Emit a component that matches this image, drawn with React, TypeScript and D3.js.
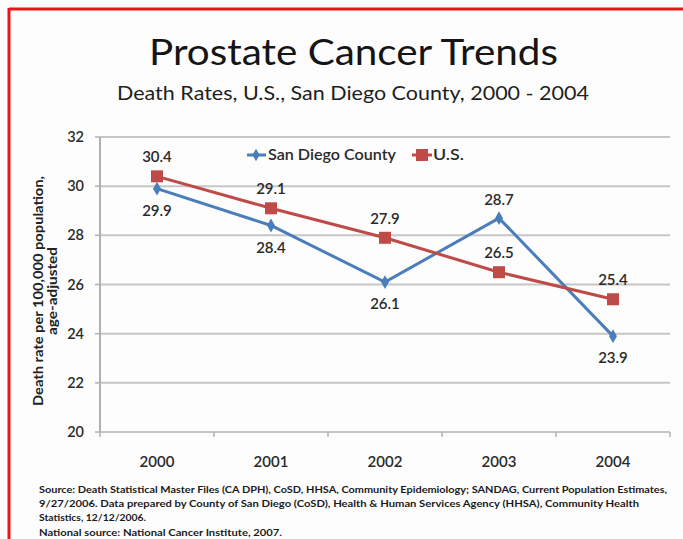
import React from "react";
import * as d3 from "d3";

const years = ["2000", "2001", "2002", "2003", "2004"];
const sanDiego = [29.9, 28.4, 26.1, 28.7, 23.9];
const us = [30.4, 29.1, 27.9, 26.5, 25.4];
const sdLabelAbove = [false, false, false, true, false];
const usLabelAbove = [true, true, true, true, true];
const yTicks = [20, 22, 24, 26, 28, 30, 32];
const footer = [
  "Source: Death Statistical Master Files (CA DPH), CoSD, HHSA, Community Epidemiology; SANDAG, Current Population Estimates,",
  "9/27/2006.  Data prepared by County of San Diego (CoSD), Health & Human Services Agency (HHSA), Community Health",
  "Statistics, 12/12/2006.",
  "National source: National Cancer Institute, 2007.",
];
const footerWidths = [628, 600, 107, 243];

const W = 683, H = 539;
const L = 100, R = 670, T = 137, B = 432;
const FONT = "Lato, 'Open Sans', sans-serif";
const BLUE = "#4a7ebb";
const RED = "#be4b48";
const TXT = "#2a2a2a";

export default function App() {
  const x = d3.scalePoint<string>().domain(years).range([L, R]).padding(0.5);
  const band = (R - L) / years.length;
  const y = d3.scaleLinear().domain([20, 32]).range([B, T]);
  const line = d3.line<number>().x((_, i) => x(years[i])!).y((d) => y(d));

  return (
    <svg width={W} height={H} style={{ position: "absolute", left: 0, top: 0, background: "#fff" }} fontFamily={FONT}>
      <rect x={0} y={0} width={W} height={H} fill="#fdfdfd" />
      <line x1={9} y1={9} x2={W} y2={9} stroke="#e8161b" strokeWidth={3} />
      <line x1={9} y1={8} x2={9} y2={H} stroke="#e8161b" strokeWidth={3} />
      <text x={149} y={65} fontSize={37} fill="#151515" textLength={409} lengthAdjust="spacingAndGlyphs">Prostate Cancer Trends</text>
      <text x={117} y={100} fontSize={20} fill="#1e1e1e" textLength={472} lengthAdjust="spacingAndGlyphs">Death Rates, U.S., San Diego County, 2000 - 2004</text>

      {yTicks.map((t) => (
        <g key={t}>
          <line x1={L} x2={R} y1={y(t)} y2={y(t)} stroke="#c6c6c6" strokeWidth={2} />
          <line x1={L - 5} x2={L} y1={y(t)} y2={y(t)} stroke="#b0b0b0" strokeWidth={1.5} />
          <text x={L - 16} y={y(t) + 5} textAnchor="end" fontSize={14.5} fontWeight={600} fill={TXT}>{t}</text>
        </g>
      ))}
      <line x1={L} x2={L} y1={T} y2={B} stroke="#b0b0b0" strokeWidth={2} />
      {d3.range(years.length + 1).map((i) => (
        <line key={i} x1={L + i * band} x2={L + i * band} y1={B} y2={B + 5} stroke="#b0b0b0" strokeWidth={1.5} />
      ))}
      {years.map((yr) => (
        <text key={yr} x={x(yr)!} y={B + 35} textAnchor="middle" fontSize={15} fontWeight={600} fill={TXT}>{yr}</text>
      ))}

      <g transform={`translate(0,291) rotate(-90)`}>
        <text x={0} y={43} textAnchor="middle" fontSize={12.5} fontWeight={700} fill="#222" textLength={230} lengthAdjust="spacingAndGlyphs">Death rate per 100,000 population,</text>
        <text x={0} y={57} textAnchor="middle" fontSize={12.5} fontWeight={700} fill="#222" textLength={88} lengthAdjust="spacingAndGlyphs">age-adjusted</text>
      </g>

      <path d={line(sanDiego)!} fill="none" stroke={BLUE} strokeWidth={3} />
      <path d={line(us)!} fill="none" stroke={RED} strokeWidth={3} />
      {sanDiego.map((v, i) => (
        <path key={"sd" + i} d={d3.symbol(d3.symbolDiamond, 55)()!} transform={`translate(${x(years[i])},${y(v)})`} fill={BLUE} />
      ))}
      {us.map((v, i) => (
        <rect key={"us" + i} x={x(years[i])! - 6} y={y(v) - 6} width={12} height={12} fill={RED} />
      ))}
      {sanDiego.map((v, i) => (
        <text key={"sdl" + i} x={x(years[i])!} y={sdLabelAbove[i] ? y(v) - 13 : y(v) + 27} textAnchor="middle" fontSize={15} fontWeight={600} fill={TXT}>{v.toFixed(1)}</text>
      ))}
      {us.map((v, i) => (
        <text key={"usl" + i} x={x(years[i])!} y={usLabelAbove[i] ? y(v) - 14 : y(v) + 27} textAnchor="middle" fontSize={15} fontWeight={600} fill={TXT}>{v.toFixed(1)}</text>
      ))}

      <g>
        <line x1={247} x2={266} y1={155} y2={155} stroke={BLUE} strokeWidth={3} />
        <path d={d3.symbol(d3.symbolDiamond, 45)()!} transform="translate(256,155)" fill={BLUE} />
        <text x={268} y={160} fontSize={15} fontWeight={600} fill={TXT} textLength={128} lengthAdjust="spacingAndGlyphs">San Diego County</text>
        <line x1={412} x2={432} y1={155} y2={155} stroke={RED} strokeWidth={3} />
        <rect x={416} y={149} width={12} height={12} fill={RED} />
        <text x={433} y={160} fontSize={15} fontWeight={600} fill={TXT} textLength={31} lengthAdjust="spacingAndGlyphs">U.S.</text>
      </g>

      {footer.map((f, i) => (
        <text key={i} x={39} y={493 + i * 14.2} fontSize={10} fontWeight={700} fill="#1a1a1a" textLength={footerWidths[i]} lengthAdjust="spacingAndGlyphs">{f}</text>
      ))}
    </svg>
  );
}
